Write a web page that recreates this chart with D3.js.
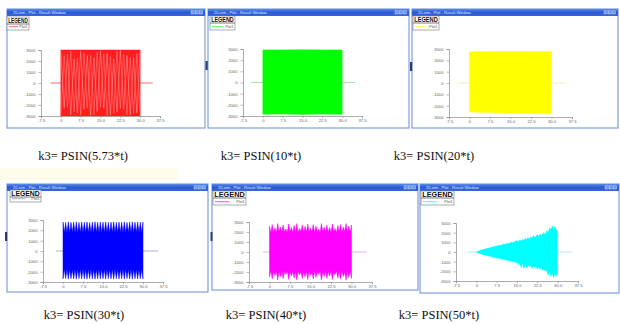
<!DOCTYPE html>
<html><head><meta charset="utf-8">
<script src="https://cdn.jsdelivr.net/npm/d3@7"></script>
<style>body{margin:0;background:#fff}svg{display:block}</style>
</head><body>
<svg id="c" width="620" height="324"></svg>
<script>
// ---------- data ----------
const captions = ["k3= PSIN(5.73*t)","k3= PSIN(10*t)","k3= PSIN(20*t)","k3= PSIN(30*t)","k3= PSIN(40*t)","k3= PSIN(50*t)"];
const seriesColors = ["#ff1e1e","#00ff00","#ffff00","#0000ff","#ff00ff","#00ffff"];
const zeroLineColors = ["#f04040","#90dd90","#eeee90","#9a9ad0","#e8a0e8","#a0e8e8"];
const legendTitle = "LEGEND";
const legendLabel = "Plot1";
const windowTitle = "20-sim - Plot - Result Window";
const xTicks = [-7.5, 0, 7.5, 15, 22.5, 30, 37.5];
const xTickLabels = ["-7.5","0","7.5","15.0","22.5","30.0","37.5"];
const yTicks = [3000, 2000, 1000, 0, -1000, -2000, -3000];
const yTickLabels = ["3000","2000","1000","0","-1000","-2000","-3000"];
const zeroStart = [-3.8, -4.5, -4.2, -2.6, -2.3, -3.2];
const zeroEnd = [34.7, 35.0, 35.5, 35.7, 35.6, 35.5];

const tGrid = [0,0.5,1,1.5,2,2.5,3,3.5,4,4.5,5,5.5,6,6.5,7,7.5,8,8.5,9,9.5,
  10,10.5,11,11.5,12,12.5,13,13.5,14,14.5,15,15.5,16,16.5,17,17.5,18,18.5,19,19.5,
  20,20.5,21,21.5,22,22.5,23,23.5,24,24.5,25,25.5,26,26.5,27,27.5,28,28.5,29,29.5,30];

// panel 1 (5.73*t)
const redT = [0, 30];
const redUpper = [3000, 3000];
const redLower = [-3000, -3000];
const redWaveT = [0,1.25,2.5,3.75,5,6.25,7.5,8.75,10,11.25,12.5,13.75,15,16.25,17.5,18.75,20,21.25,22.5,23.75,25,26.25,27.5,28.75,30];
const redWaveA = [2900,-2300,2600,-2900,2200,-2700,2900,-2400,2500,-2950,2300,-2600,2900,-2300,2700,-2900,2200,-2600,2950,-2400,2500,-2900,2300,-2700,2900];
const redWaveB = [-2800,2500,-2200,2900,-2600,2300,-2900,2700,-2300,2500,-2900,2800,-2200,2600,-2950,2400,-2700,2900,-2300,2600,-2900,2300,-2800,2700,-2600];

// panel 2 (10*t)
const greenT = [0, 7.5, 15, 22.5, 30];
const greenUpper = [2920, 2920, 2930, 2920, 2920];
const greenLower = [-2850, -2820, -2860, -2830, -2850];

// panel 3 (20*t)
const yellowT = [0, 15, 30];
const yellowUpper = [2760, 2780, 2790];
const yellowLower = [-2560, -2640, -2700];

// panel 4 (30*t)
const blueTop = [2800,1800,2760,1790,2820,1800,2780,1810,2800,1790,
  2830,1800,2770,1800,2810,1790,2790,1810,2820,1800,
  2760,1800,2800,1790,2830,1810,2780,1800,2810,1790,
  2790,1800,2820,1810,2770,1800,2800,1790,2830,1800,
  2780,1810,2810,1800,2790,1790,2820,1800,2770,1810,
  2800,1800,2830,1790,2780,1800,2810,1810,2790,1800,
  2800];
const blueBot = [-2700,-1800,-2660,-1790,-2720,-1800,-2680,-1810,-2700,-1790,
  -2730,-1800,-2670,-1800,-2710,-1790,-2690,-1810,-2720,-1800,
  -2660,-1800,-2700,-1790,-2730,-1810,-2680,-1800,-2710,-1790,
  -2690,-1800,-2720,-1810,-2670,-1800,-2700,-1790,-2730,-1800,
  -2680,-1810,-2710,-1800,-2690,-1790,-2720,-1800,-2670,-1810,
  -2700,-1800,-2730,-1790,-2680,-1800,-2710,-1810,-2690,-1800,
  -2700];

// panel 5 (40*t)
const magentaTop = [2600,1950,2750,2000,2400,1950,2850,2050,2500,1950,
  2700,2000,2300,1950,2800,2050,2450,1950,2650,2000,
  2850,1950,2350,2050,2700,1950,2550,2000,2800,1950,
  2400,2050,2750,1950,2600,2000,2300,1950,2850,2050,
  2500,1950,2700,2000,2450,1950,2800,2050,2350,1950,
  2650,2000,2750,1950,2500,2050,2850,1950,2600,2000,
  2700];
const magentaBot = [-2500,-1900,-2700,-1950,-2350,-1900,-2800,-2000,-2450,-1900,
  -2650,-1950,-2250,-1900,-2750,-2000,-2400,-1900,-2600,-1950,
  -2800,-1900,-2300,-2000,-2650,-1900,-2500,-1950,-2750,-1900,
  -2350,-2000,-2700,-1900,-2550,-1950,-2250,-1900,-2800,-2000,
  -2450,-1900,-2650,-1950,-2400,-1900,-2750,-2000,-2300,-1900,
  -2600,-1950,-2700,-1900,-2450,-2000,-2800,-1900,-2550,-1950,
  -2650];

// panel 6 (50*t)
const cyanUpper = [0,60,120,180,210,260,300,330,380,400,
  450,470,520,540,600,620,650,700,680,760,
  800,780,850,900,870,950,1000,960,1050,1100,
  1200,1050,1250,1150,1300,1200,1400,1300,1500,1350,
  1550,1450,1700,1500,1650,1800,1600,1850,1700,1900,
  2000,1800,2200,2000,2500,2300,2700,2400,2600,2300,
  2100];
const cyanLower = [0,-50,-110,-170,-220,-250,-290,-340,-360,-410,
  -430,-480,-500,-560,-580,-620,-640,-680,-700,-740,
  -780,-800,-830,-880,-900,-920,-980,-1000,-1020,-1100,
  -1050,-1300,-1150,-1600,-1200,-1700,-1300,-1650,-1350,-1500,
  -1400,-1700,-1450,-1600,-1500,-1800,-1550,-1750,-1650,-1900,
  -1800,-2000,-1900,-2400,-2100,-2500,-2200,-2600,-2300,-2500,
  -2000];

// ---------- layout (positions, not data) ----------
const layout = [
  {fx:7,   fy:9,   fw:198, fh:119, ax0:41,  ax1:160, ay0:50,  ay1:116, lg:[7,17,22,13],   cx:83,  cy:160},
  {fx:208, fy:9,   fw:201, fh:119, ax0:243, ax1:362, ay0:49,  ay1:116, lg:[210,16,25,14], cx:261, cy:160},
  {fx:412, fy:9,   fw:206, fh:119, ax0:449, ax1:572, ay0:49,  ay1:117, lg:[413,16,26,14], cx:434, cy:160},
  {fx:7,   fy:184, fw:201, fh:108, ax0:43,  ax1:163, ay0:220, ay1:282, lg:[10,190,31,12], cx:84,  cy:319},
  {fx:212, fy:184, fw:206, fh:106, ax0:249, ax1:372, ay0:222, ay1:282, lg:[213,191,33,14],cx:266, cy:319},
  {fx:420, fy:184, fw:199, fh:109, ax0:456, ax1:578, ay0:223, ay1:281, lg:[421,191,33,14],cx:439, cy:319}
];

const svg = d3.select("#c");
const defs = svg.append("defs");
const g = defs.append("linearGradient").attr("id","tb").attr("x1",0).attr("y1",0).attr("x2",0).attr("y2",1);
g.append("stop").attr("offset","0%").attr("stop-color","#5d8cec");
g.append("stop").attr("offset","45%").attr("stop-color","#2a5ad6");
g.append("stop").attr("offset","100%").attr("stop-color","#3666d8");

// faint tinted strip
svg.append("rect").attr("x",0).attr("y",168).attr("width",177).attr("height",12).attr("fill","#fffbeb");

const bands = [
  {t:redT, up:redUpper, lo:redLower},
  {t:greenT, up:greenUpper, lo:greenLower},
  {t:yellowT, up:yellowUpper, lo:yellowLower},
  {t:tGrid, up:blueTop, lo:blueBot},
  {t:tGrid, up:magentaTop, lo:magentaBot},
  {t:tGrid, up:cyanUpper, lo:cyanLower}
];

layout.forEach((L, i) => {
  const p = svg.append("g");
  // window frame
  p.append("rect").attr("x",L.fx).attr("y",L.fy).attr("width",L.fw).attr("height",L.fh)
    .attr("fill","#fff").attr("stroke","#7f9fdc").attr("stroke-width",1.2);
  p.append("rect").attr("x",L.fx).attr("y",L.fy).attr("width",L.fw).attr("height",7)
    .attr("fill","url(#tb)");
  p.append("text").attr("x",L.fx+6).attr("y",L.fy+5).attr("font-family","Arial, sans-serif")
    .attr("font-size",4).attr("fill","#dfe8ff").text(windowTitle);
  [0,1,2].forEach(k => {
    p.append("rect").attr("x",L.fx+L.fw-14+k*4.2).attr("y",L.fy+1.8).attr("width",3.2).attr("height",3.2)
      .attr("fill","#6f98ee").attr("stroke","#dce6fb").attr("stroke-width",0.4);
  });

  const x = d3.scaleLinear().domain([-7.5, 37.5]).range([L.ax0, L.ax1]);
  const y = d3.scaleLinear().domain([-3000, 3000]).range([L.ay1, L.ay0]);

  // zero line
  p.append("line").attr("x1",x(zeroStart[i])).attr("x2",x(zeroEnd[i]))
    .attr("y1",y(0)).attr("y2",y(0)).attr("stroke",zeroLineColors[i]).attr("stroke-width",0.8);

  // signal band
  const b = bands[i];
  const pts = b.t.map((t, j) => ({t, u: b.up[j], l: b.lo[j]}));
  const area = d3.area().x(d => x(d.t)).y0(d => y(d.l)).y1(d => y(d.u));
  p.append("path").datum(pts).attr("d", area).attr("fill", seriesColors[i])
    .attr("stroke", seriesColors[i]).attr("stroke-width", 0.5);

  if (i === 0) {
    const line = d3.line().x(d => x(d.t)).y(d => y(d.v));
    [redWaveA, redWaveB].forEach((w, k) => {
      p.append("path").datum(redWaveT.map((t, j) => ({t, v: w[j]})))
        .attr("d", line).attr("fill","none").attr("stroke", k ? "#ff8a8a" : "#ffa8a8")
        .attr("stroke-width",0.6).attr("opacity",0.85);
    });
  }

  // axes
  const axc = "#8a8a8a";
  const ax = d3.axisBottom(x).tickValues(xTicks).tickFormat((d, j) => xTickLabels[j]).tickSize(2).tickPadding(1.5);
  const ay = d3.axisLeft(y).tickValues(yTicks).tickFormat((d, j) => yTickLabels[j]).tickSize(2.5).tickPadding(3);
  const gx = p.append("g").attr("transform",`translate(0,${L.ay1})`).call(ax);
  const gy = p.append("g").attr("transform",`translate(${L.ax0},0)`).call(ay);
  [gx, gy].forEach(a => {
    a.select(".domain").attr("stroke",axc).attr("stroke-width",0.7);
    a.selectAll(".tick line").attr("stroke",axc).attr("stroke-width",0.6);
    a.selectAll(".tick text").attr("font-size",4.2).attr("font-family","Arial, sans-serif").attr("fill","#666");
  });

  // legend
  const [lx, ly, lw, lh] = L.lg;
  p.append("rect").attr("x",lx).attr("y",ly).attr("width",lw).attr("height",lh)
    .attr("fill","#fff").attr("stroke","#777").attr("stroke-width",0.6);
  p.append("text").attr("x",lx+1.2).attr("y",ly+6).attr("font-family","Arial, sans-serif")
    .attr("font-weight","bold").attr("font-size",6.8).attr("textLength",lw-2.4)
    .attr("lengthAdjust","spacingAndGlyphs").attr("fill","#111").text(legendTitle);
  p.append("line").attr("x1",lx).attr("x2",lx+lw).attr("y1",ly+7).attr("y2",ly+7)
    .attr("stroke","#444").attr("stroke-width",0.7);
  p.append("line").attr("x1",lx+2).attr("x2",lx+lw*0.5).attr("y1",ly+lh-3.3).attr("y2",ly+lh-3.3)
    .attr("stroke",i===3 ? "#7a8ad0" : seriesColors[i]).attr("stroke-width",0.7);
  p.append("text").attr("x",lx+lw-1.5).attr("y",ly+lh-2).attr("text-anchor","end")
    .attr("font-family","Arial, sans-serif").attr("font-size",3.6).attr("fill","#555").text(legendLabel);

  // caption
  svg.append("text").attr("x",L.cx).attr("y",L.cy).attr("text-anchor","middle")
    .attr("font-family","'Liberation Serif','Times New Roman',serif").attr("font-size",12.5)
    .attr("fill","#111").text(captions[i]);
});

// splitter tabs between windows
[[205.5,61,2.2,9],[410,62,2.2,9],[5,232,2.2,9],[210.5,232,2,9]].forEach(r => {
  svg.append("rect").attr("x",r[0]).attr("y",r[1]).attr("width",r[2]).attr("height",r[3]).attr("fill","#2b3d6e");
});
</script>
</body></html>
